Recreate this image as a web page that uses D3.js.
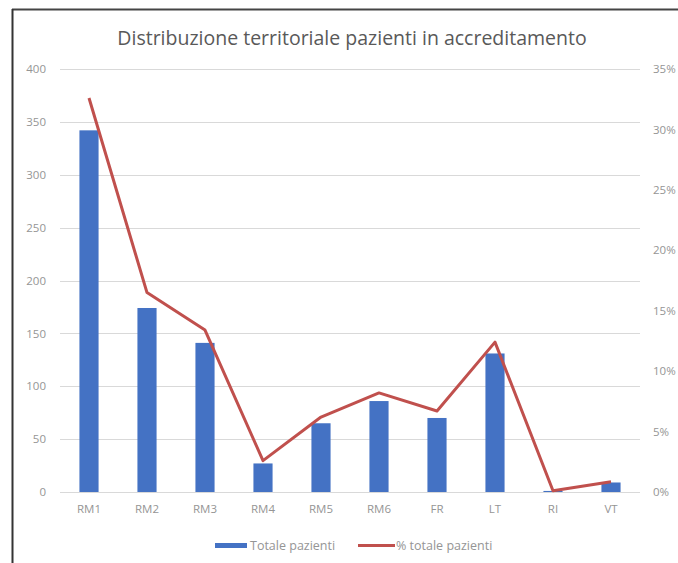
<!DOCTYPE html>
<html lang="it">
<head>
    <meta charset="UTF-8">
    <script src="https://d3js.org/d3.v7.min.js"></script>
    <title>Distribuzione territoriale</title>
    <style>
        body { margin: 0; background: #fff; }
        svg text { font-family: "Open Sans", "Liberation Sans", sans-serif; }
    </style>
</head>
<body>
    <svg width="678" height="563" id="chart"></svg>
    <script>
        // data
        const categories = ["RM1", "RM2", "RM3", "RM4", "RM5", "RM6", "FR", "LT", "RI", "VT"];
        const totalePazienti = [342, 174, 141, 27, 65, 86, 70, 131, 1, 9];
        const percTotale = [32.6, 16.5, 13.4, 2.6, 6.2, 8.2, 6.7, 12.4, 0.1, 0.85];
        const leftTicks = [0, 50, 100, 150, 200, 250, 300, 350, 400];
        const rightTicks = [0, 5, 10, 15, 20, 25, 30, 35];

        const svg = d3.select("#chart");
        const plotLeft = 60, plotRight = 640, plotTop = 69, plotBottom = 492;
        const tickStyle = "font-size: 11.5px; fill: #959595;";

        // frame (top + left edge of the screenshot)
        svg.append("line")
            .attr("x1", 12).attr("x2", 678).attr("y1", 9.5).attr("y2", 9.5)
            .attr("style", "stroke: #444; stroke-width: 2");
        svg.append("line")
            .attr("x1", 12.5).attr("x2", 12.5).attr("y1", 9).attr("y2", 563)
            .attr("style", "stroke: #333; stroke-width: 2");

        svg.append("text")
            .attr("x", 352).attr("y", 45)
            .attr("text-anchor", "middle")
            .attr("style", "font-size: 19.5px; fill: #595959;")
            .text("Distribuzione territoriale pazienti in accreditamento");

        let x = d3.scaleBand().domain(categories).range([plotLeft, plotRight]).paddingInner(0.67).paddingOuter(0.335);
        let y = d3.scaleLinear().domain([0, 400]).range([plotBottom, plotTop]);
        let y2 = d3.scaleLinear().domain([0, 35]).range([plotBottom, plotTop]);

        // gridlines
        svg.append("g").selectAll("line").data(leftTicks).join("line")
            .attr("x1", plotLeft).attr("x2", plotRight)
            .attr("y1", d => Math.round(y(d)) + 0.5).attr("y2", d => Math.round(y(d)) + 0.5)
            .attr("style", "stroke: #d9d9d9; stroke-width: 1");

        // left axis
        let yAxis = svg.append("g").attr("transform", "translate(" + (plotLeft - 11) + ",0)")
            .call(d3.axisLeft(y).tickValues(leftTicks).tickSize(0).tickPadding(3));
        yAxis.select(".domain").remove();
        yAxis.selectAll("text").attr("style", tickStyle).attr("font-family", null);

        // right axis
        let y2Axis = svg.append("g").attr("transform", "translate(" + (plotRight + 11) + ",0)")
            .call(d3.axisRight(y2).tickValues(rightTicks).tickFormat(d => d + "%").tickSize(0).tickPadding(2));
        y2Axis.select(".domain").remove();
        y2Axis.selectAll("text").attr("style", tickStyle).attr("font-family", null);

        // x axis labels
        let xAxis = svg.append("g").attr("transform", "translate(0," + plotBottom + ")")
            .call(d3.axisBottom(x).tickSize(0).tickPadding(13));
        xAxis.select(".domain").remove();
        xAxis.selectAll("text").attr("style", tickStyle).attr("font-family", null);

        // bars
        svg.append("g").selectAll("rect").data(categories).join("rect")
            .attr("x", d => x(d))
            .attr("width", x.bandwidth())
            .attr("y", (d, i) => y(totalePazienti[i]))
            .attr("height", (d, i) => plotBottom - y(totalePazienti[i]))
            .attr("fill", "#4472c4");

        // line
        let line = d3.line()
            .x((d, i) => x(categories[i]) + x.bandwidth() / 2)
            .y(d => y2(d));
        svg.append("path")
            .datum(percTotale)
            .attr("d", line)
            .attr("fill", "none")
            .attr("stroke", "#c0504d")
            .attr("stroke-width", 3)
            .attr("stroke-linejoin", "round");

        // legend
        svg.append("rect")
            .attr("x", 215).attr("y", 543).attr("width", 32).attr("height", 5)
            .attr("fill", "#4472c4");
        svg.append("text")
            .attr("x", 250).attr("y", 549.5)
            .attr("style", "font-size: 12.5px; fill: #959595;")
            .text("Totale pazienti");
        svg.append("line")
            .attr("x1", 358).attr("x2", 395).attr("y1", 545.5).attr("y2", 545.5)
            .attr("style", "stroke: #c0504d; stroke-width: 3");
        svg.append("text")
            .attr("x", 396).attr("y", 549.5)
            .attr("style", "font-size: 12.5px; fill: #959595;")
            .text("% totale pazienti");
    </script>
</body>
</html>
